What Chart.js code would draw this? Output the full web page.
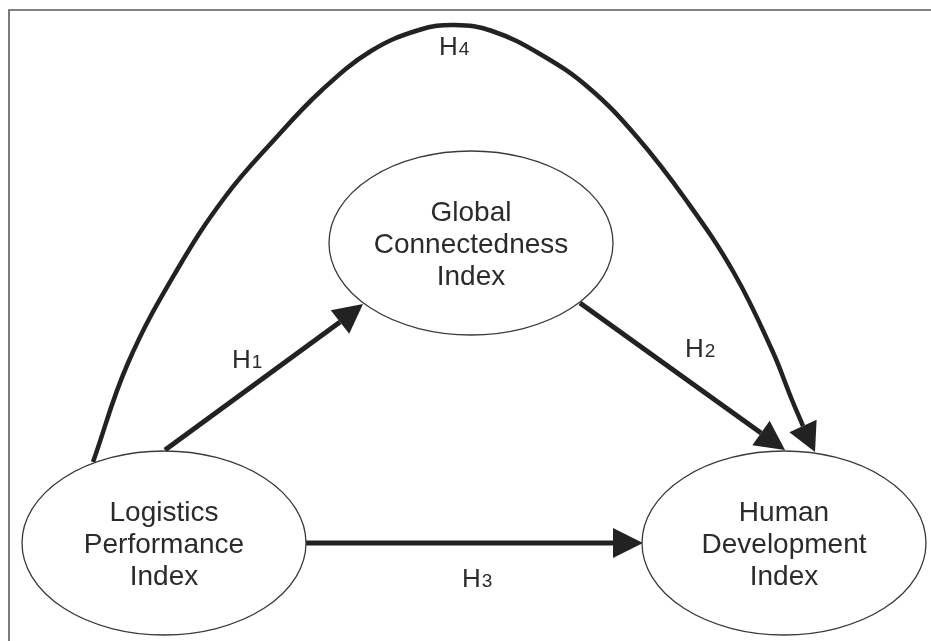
<!DOCTYPE html>
<html>
<head>
<meta charset="utf-8">
<script src="https://cdn.jsdelivr.net/npm/chart.js@4/dist/chart.umd.min.js"></script>
<style>
  html, body { margin: 0; padding: 0; background: #fff; }
  canvas { display: block; }
</style>
</head>
<body>
<canvas id="diagram" width="931" height="641"></canvas>
<script>
// constructs (ellipses) and where they sit
const nodeLabels = [
    ['Logistics', 'Performance', 'Index'],
    ['Global', 'Connectedness', 'Index'],
    ['Human', 'Development', 'Index']
];
const nodeX = [164, 471, 784];
const nodeY = [543, 243, 543];

// hypothesis paths: shaft points, then arrow tip
const hypotheses = ['1', '2', '3', '4'];
const pathX = [
    [165, 340],
    [580, 761],
    [306, 613],
    [93, 128, 177, 225, 274, 322, 371, 419, 455, 492, 540, 589, 637, 686, 734, 772, 792, 803]
];
const pathY = [
    [450, 322],
    [303, 433],
    [543, 543],
    [462, 363, 270, 197, 140, 90, 51, 30, 25, 31, 54, 88, 137, 200, 273, 350, 400, 426]
];
const tipX = [363, 785, 643, 815];
const tipY = [304, 450, 543, 452];

// label anchors (left edge, baseline)
const labelX = [232, 685, 462, 439];
const labelY = [368, 357, 587, 55];

const diagramPlugin = {
    id: 'diagram',
    beforeDatasetsDraw(chart) {
        const ctx = chart.ctx;
        // frame: top and left rules only
        ctx.save();
        ctx.strokeStyle = '#5a5a5a';
        ctx.lineWidth = 1.6;
        ctx.beginPath();
        ctx.moveTo(9, 641);
        ctx.lineTo(9, 10);
        ctx.lineTo(931, 10);
        ctx.stroke();
        ctx.restore();
    },
    afterDatasetsDraw(chart) {
        const ctx = chart.ctx;
        const xs = chart.scales.x, ys = chart.scales.y;

        // arrowheads
        ctx.save();
        ctx.fillStyle = '#222';
        chart.data.datasets.forEach((ds, i) => {
            const pts = chart.getDatasetMeta(i).data;
            const base = pts[pts.length - 1];
            const tx = xs.getPixelForValue(tipX[i]);
            const ty = ys.getPixelForValue(tipY[i]);
            const dx = tx - base.x, dy = ty - base.y;
            const len = Math.hypot(dx, dy);
            const nx = -dy / len, ny = dx / len;
            const hw = 15;
            ctx.beginPath();
            ctx.moveTo(tx, ty);
            ctx.lineTo(base.x + nx * hw, base.y + ny * hw);
            ctx.lineTo(base.x - nx * hw, base.y - ny * hw);
            ctx.closePath();
            ctx.fill();
        });
        ctx.restore();

        // ellipses
        ctx.save();
        ctx.strokeStyle = '#3a3a3a';
        ctx.lineWidth = 1.3;
        nodeX.forEach((cx, i) => {
            const px = xs.getPixelForValue(cx);
            const py = ys.getPixelForValue(nodeY[i]);
            const rx = xs.getPixelForValue(cx + 142) - px;
            const ry = ys.getPixelForValue(nodeY[i] + 92) - py;
            ctx.beginPath();
            ctx.ellipse(px, py, Math.abs(rx), Math.abs(ry), 0, 0, Math.PI * 2);
            ctx.stroke();
        });
        ctx.restore();
    },
    afterDraw(chart) {
        const ctx = chart.ctx;
        const xs = chart.scales.x, ys = chart.scales.y;
        ctx.save();
        ctx.fillStyle = '#2b2b2b';

        // node text
        ctx.font = '28px "Liberation Sans", Arial, sans-serif';
        ctx.textAlign = 'center';
        ctx.textBaseline = 'alphabetic';
        nodeLabels.forEach((lines, i) => {
            const px = xs.getPixelForValue(nodeX[i]);
            const py = ys.getPixelForValue(nodeY[i]);
            lines.forEach((t, j) => {
                ctx.fillText(t, px, py + 10 + (j - 1) * 32);
            });
        });

        // hypothesis labels: H with a smaller digit
        ctx.textAlign = 'left';
        hypotheses.forEach((n, i) => {
            const px = xs.getPixelForValue(labelX[i]);
            const py = ys.getPixelForValue(labelY[i]);
            ctx.font = '26px "Liberation Sans", Arial, sans-serif';
            ctx.fillText('H', px, py);
            const w = ctx.measureText('H').width;
            ctx.font = '19px "Liberation Sans", Arial, sans-serif';
            ctx.fillText(n, px + w + 1, py);
        });
        ctx.restore();
    }
};

new Chart(document.getElementById('diagram'), {
    type: 'scatter',
    data: {
        datasets: hypotheses.map((n, i) => ({
            label: 'H' + n,
            data: pathX[i].map((x, j) => ({ x: x, y: pathY[i][j] })),
            showLine: true,
            borderColor: '#222',
            borderWidth: i === 3 ? 4.5 : 5,
            borderCapStyle: 'butt',
            pointRadius: 0,
            tension: i === 3 ? 0.4 : 0,
            fill: false
        }))
    },
    options: {
        responsive: false,
        animation: false,
        layout: { padding: 0 },
        plugins: {
            legend: { display: false },
            tooltip: { enabled: false }
        },
        scales: {
            x: { type: 'linear', min: 0, max: 931, display: false },
            y: { type: 'linear', min: 0, max: 641, reverse: true, display: false }
        }
    },
    plugins: [diagramPlugin]
});
</script>
</body>
</html>
